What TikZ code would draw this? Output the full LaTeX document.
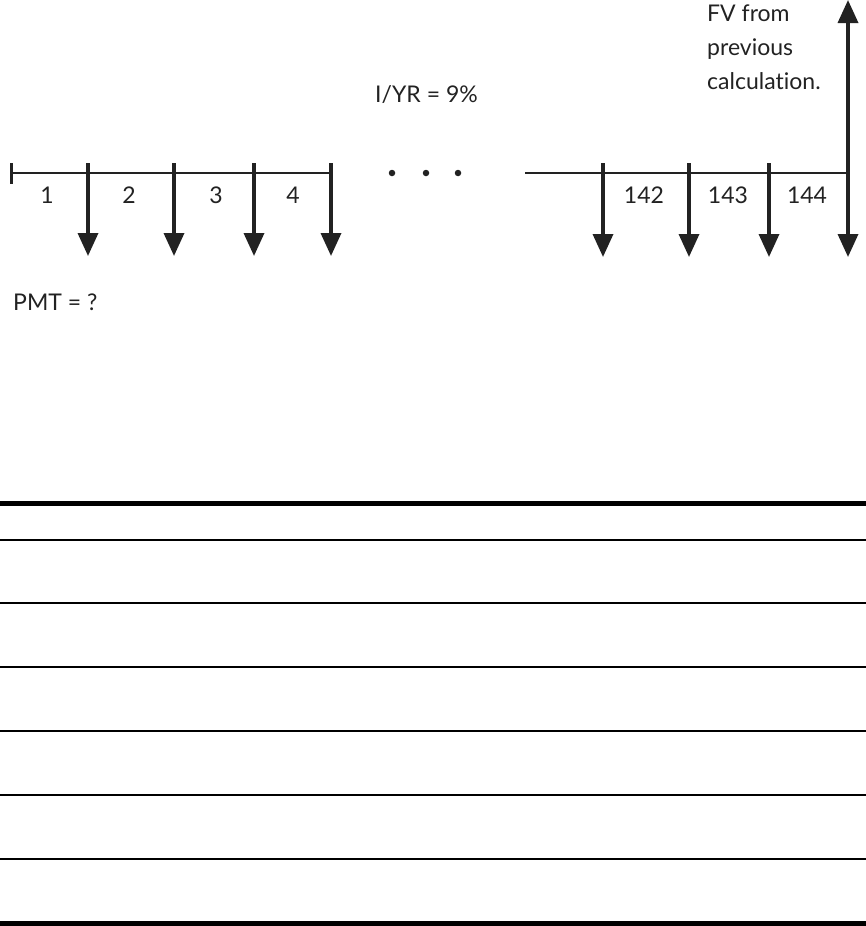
\documentclass[tikz,border=0pt]{standalone}
\usepackage{fontspec}
\setmainfont{Lato}[Ligatures=NoCommon]
\usetikzlibrary{arrows.meta}
\definecolor{ink}{HTML}{222222}
\tikzset{
  axisline/.style={line width=2pt, draw=ink},
  flowdown/.style={line width=3.5pt, draw=ink, -{Triangle[width=20pt,length=23pt]}},
  flowboth/.style={line width=3.5pt, draw=ink, {Triangle[width=20pt,length=23pt]}-{Triangle[width=20pt,length=23pt]}},
  lbl/.style={inner sep=0pt, text=ink, font=\fontsize{23}{27}\selectfont},
  rulethick/.style={line width=5pt, draw=black},
  rulethin/.style={line width=2pt, draw=black},
  dotmark/.style={circle, fill=ink, inner sep=0pt, minimum size=6.5pt}
}
\begin{document}
\begin{tikzpicture}[x=1pt,y=-1pt]
\useasboundingbox (0,0) rectangle (866,926);
% timeline left
\coordinate (L0) at (11,173);
\coordinate (L4) at (331,173);
\draw[axisline] (L0) -- (L4);
\coordinate (Ltt) at (11,163);
\coordinate (Ltb) at (11,184);
\draw[line width=3pt, draw=ink] (Ltt) -- (Ltb);
\foreach \n/\x in {a1/88,a2/174,a3/254,a4/331}{
  \coordinate (\n t) at (\x,163);
  \coordinate (\n b) at (\x,256);
  \draw[flowdown] (\n t) -- (\n b);
}
% timeline right
\coordinate (R0) at (525,173);
\coordinate (R4) at (848,173);
\draw[axisline] (R0) -- (R4);
\foreach \n/\x in {b1/603,b2/689,b3/769}{
  \coordinate (\n t) at (\x,163);
  \coordinate (\n b) at (\x,257);
  \draw[flowdown] (\n t) -- (\n b);
}
\coordinate (b4t) at (848,0);
\coordinate (b4b) at (848,257);
\draw[flowboth] (b4b) -- (b4t);
% period labels
\node[lbl] (p1) at (47,195) {1};
\node[lbl] (p2) at (129,195) {2};
\node[lbl] (p3) at (216,195) {3};
\node[lbl] (p4) at (293,195) {4};
\node[lbl] (p142) at (644,195) {142};
\node[lbl] (p143) at (728,195) {143};
\node[lbl] (p144) at (807,195) {144};
% dots
\node[dotmark] (d1) at (392,173) {};
\node[dotmark] (d2) at (426,173) {};
\node[dotmark] (d3) at (458,173) {};
% texts
\node[lbl, anchor=west] (iyr) at (375,95) {I/YR = 9\%};
\node[lbl, anchor=west] (pmt) at (13,302) {PMT = ?};
\node[lbl, anchor=north west, align=left, font=\fontsize{23}{34}\selectfont] (fv) at (707,5) {FV from\\previous\\calculation.};
% table rules
\coordinate (t0l) at (0,503.5); \coordinate (t0r) at (866,503.5);
\draw[rulethick] (t0l) -- (t0r);
\foreach \i/\y in {1/540,2/603,3/667,4/731,5/795,6/859}{
  \coordinate (t\i l) at (0,\y); \coordinate (t\i r) at (866,\y);
  \draw[rulethin] (t\i l) -- (t\i r);
}
\coordinate (t7l) at (0,923.5); \coordinate (t7r) at (866,923.5);
\draw[rulethick] (t7l) -- (t7r);
\end{tikzpicture}
\end{document}
